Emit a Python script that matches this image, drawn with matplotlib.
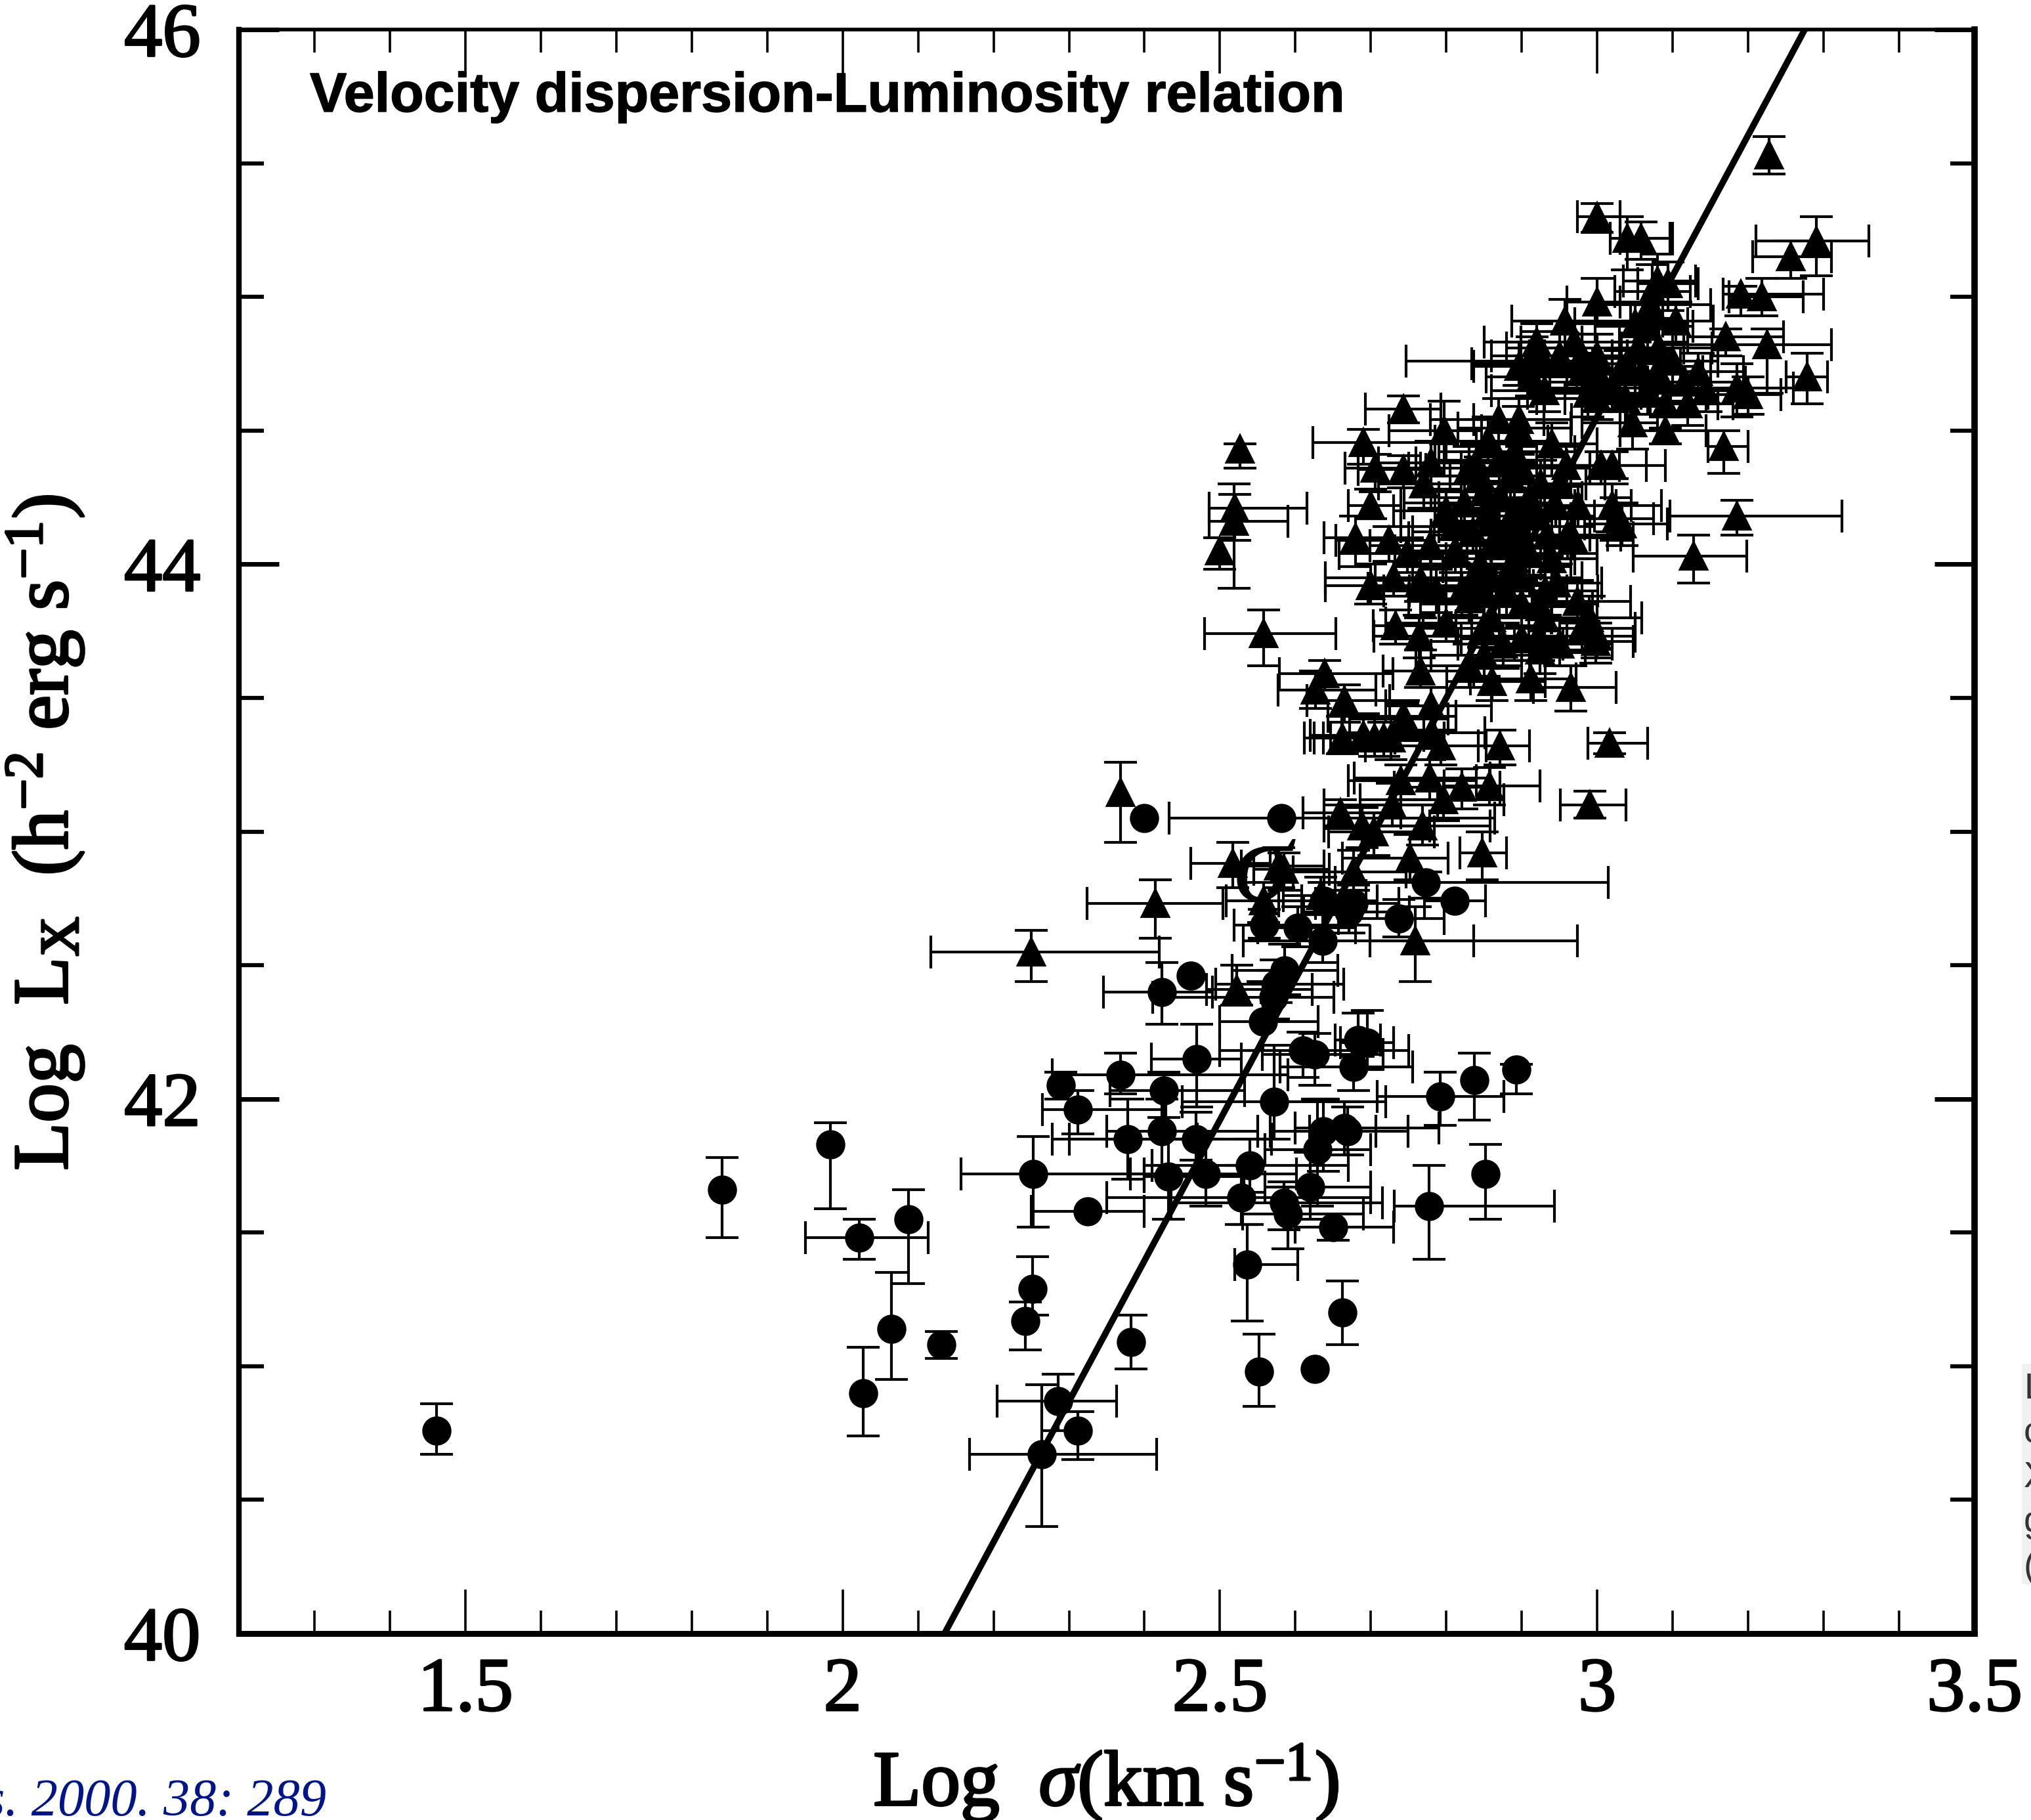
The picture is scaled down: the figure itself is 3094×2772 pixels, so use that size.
import numpy as np
import matplotlib
matplotlib.use("Agg")
import matplotlib.pyplot as plt
import matplotlib.patheffects as pe
from matplotlib.patches import Rectangle

nan = float("nan")

# regression line
fit_x = [2.135, 3.275]
fit_y = [40.0, 46.0]

# low luminosity systems (circles)
circle_x = [1.462, 1.84, 1.984, 2.022, 2.087, 2.065, 2.131, 2.027, 2.252, 2.242,
            2.382, 2.286, 2.312, 2.264, 2.253, 2.325, 2.536, 2.552, 2.626, 2.662,
            2.777, 2.852, 2.65, 2.59, 2.585, 2.62, 2.528, 2.54, 2.481, 2.432,
            2.468, 2.378, 2.423, 2.572, 2.629, 2.637, 2.665, 2.669, 2.289, 2.368,
            2.312, 2.426, 2.469, 2.792, 2.837, 2.893, 2.677, 2.683, 2.695, 2.61,
            2.626, 2.40, 2.581, 2.559, 2.603, 2.636, 2.671, 2.677, 2.638, 2.737,
            2.773, 2.811, 2.423, 2.461, 2.557, 2.571, 2.586, 2.574]
circle_y = [40.76, 41.66, 41.83, 41.48, 41.55, 41.14, 41.08, 40.90, 41.29, 41.17,
            41.09, 40.87, 40.76, 40.67, 41.72, 41.58, 41.38, 40.98, 40.99, 41.20,
            41.60, 41.72, 41.52, 41.57, 41.61, 41.67, 41.63, 41.75, 41.72, 41.71,
            41.85, 41.85, 41.88, 41.99, 41.81, 41.88, 41.89, 41.88, 42.05, 42.09,
            41.96, 42.03, 42.15, 42.01, 42.07, 42.11, 42.12, 42.22, 42.21, 42.18,
            42.165, 43.05, 43.05, 42.65, 42.64, 42.59, 42.70, 42.73, 42.74, 42.675,
            42.81, 42.74, 42.40, 42.46, 42.29, 42.38, 42.48, 42.43]
circle_xm = [nan, nan, nan, .071, nan, nan, nan, nan, nan, nan,
             nan, .081, nan, .096, .096, .075, .016, nan, nan, nan,
             .046, nan, .05, .06, .15, .06, .178, .13, .10, .032,
             .19, .078, .073, .122, .069, .07, .065, .05, nan, .09,
             .047, .072, .06, .084, nan, nan, .097, .03, .035, .11,
             .07, nan, .148, .04, .053, .105, .06, .05, .06, .08,
             .12, .04, .077, nan, .057, .16, .07, .08]
circle_xp = [nan, nan, nan, .091, nan, nan, nan, nan, nan, nan,
             nan, .077, nan, .152, .147, .075, .067, nan, nan, nan,
             .166, nan, .08, .10, .13, .08, .172, .13, .12, .10,
             .10, .092, .127, .148, .071, .07, .125, .08, nan, .222,
             .116, .107, .059, .084, nan, nan, .078, .03, .035, .14,
             .09, nan, .283, .08, .077, .20, .08, .06, .07, .06,
             .242, .041, .067, nan, .073, .08, .07, .09]
circle_ym = [.09, .18, .24, .08, .24, .19, .05, .16, .10, .11,
             .10, .11, .11, .27, .20, nan, .21, .13, nan, .12,
             .20, .17, .05, .13, .10, .12, .10, .10, .12, .16,
             .08, .15, .13, .14, .21, .15, .10, .09, .05, .07,
             .09, .10, .18, .11, .15, .09, .09, .06, .10, .10,
             .115, nan, nan, .05, .07, .08, .08, .08, .09, .07,
             .06, nan, .12, nan, .11, .08, .09, .07]
circle_yp = [.10, .12, .08, .07, .11, .21, .05, .17, .12, .07,
             .10, .10, .07, .26, .14, nan, .15, .14, nan, .12,
             .15, .11, .05, .10, .08, .13, .12, .10, .13, .14,
             .10, .15, .12, .21, .19, .12, .10, .09, .05, .08,
             .07, .07, .13, .09, .10, .02, .10, .10, .12, .07,
             .08, nan, nan, .06, .08, .10, .08, .07, .07, .07,
             .04, nan, .11, nan, .15, .10, .10, .09]

# clusters (triangles)
tri_x = [3.228, 3.000, 3.040, 3.058, 3.080, 3.094, 3.073, 3.000, 2.957, 3.29,
         3.256, 3.19, 3.218, 3.17, 3.225, 3.278, 3.185, 3.20, 3.047, 3.09,
         3.168, 3.185, 3.005, 3.02, 3.02, 3.025, 2.98, 2.914, 2.92, 2.896,
         3.067, 3.104, 3.134, 3.055, 3.03, 3.082, 3.007, 2.988, 3.116, 3.144,
         3.037, 3.067, 2.969, 2.896, 2.92, 2.913, 2.917, 2.743, 2.69, 2.797,
         2.706, 2.743, 2.527, 2.519, 2.52, 2.50, 2.68, 2.724, 2.748, 2.779,
         2.70, 2.73, 2.766, 2.558, 2.639, 2.733, 2.764, 3.128, 3.033, 3.00,
         2.968, 2.922, 2.959, 2.924, 2.965, 2.861, 2.912, 2.998, 2.98, 2.849,
         2.766, 2.83, 2.821, 2.845, 2.931, 2.946, 2.974, 2.885, 2.824, 2.855,
         2.885, 2.91, 2.916, 2.87, 2.90, 2.934, 2.845, 2.961, 2.812, 2.845,
         2.787, 2.766, 2.83, 2.90, 2.924, 2.989, 2.80, 2.87, 2.89, 2.86,
         2.88, 2.86, 2.90, 2.89, 2.665, 2.627, 2.743, 2.78, 2.662, 2.69,
         2.705, 2.727, 2.781, 2.793, 2.871, 3.016, 2.717, 2.742, 2.857, 2.99,
         2.778, 2.74, 2.821, 2.796, 2.728, 2.66, 2.688, 2.704, 2.768, 2.752,
         2.848, 2.585, 2.677, 2.558, 2.634, 2.759, 2.368, 2.517, 2.578, 2.414,
         2.25, 2.522, 2.70, 2.869, 2.895, 2.855, 2.84, 2.94, 2.78, 2.77,
         2.83, 2.85, 2.87, 2.90, 2.925, 2.945, 2.88, 2.91, 2.94, 2.86,
         2.835, 2.95, 2.975, 2.89, 2.86, 2.90, 2.93, 2.875, 2.85, 2.80,
         2.95, 2.81, 2.98, 3.00, 3.02, 3.04, 3.06, 3.00, 3.08, 3.10,
         3.05, 3.07, 3.09, 3.12, 2.95, 2.93]
tri_y = [45.53, 45.30, 45.22, 45.22, 45.06, 45.05, 45.02, 44.98, 44.91, 45.21,
         45.15, 45.01, 45.00, 44.85, 44.82, 44.70, 44.66, 44.635, 44.53, 44.50,
         44.44, 44.18, 44.37, 44.37, 44.22, 44.17, 44.78, 44.75, 44.83, 44.54,
         44.89, 44.91, 44.72, 44.81, 44.72, 44.81, 44.68, 44.64, 44.68, 44.65,
         44.62, 44.64, 44.83, 44.74, 44.81, 44.70, 44.76, 44.58, 44.455, 44.50,
         44.36, 44.355, 44.43, 44.16, 44.21, 44.05, 44.10, 44.09, 44.04, 44.07,
         43.92, 43.95, 43.91, 43.74, 43.59, 43.77, 43.73, 44.03, 44.15, 43.73,
         44.10, 43.73, 44.37, 43.68, 43.54, 43.56, 43.57, 43.71, 43.76, 43.76,
         43.60, 43.62, 43.90, 43.92, 43.90, 43.93, 43.86, 43.99, 44.23, 44.20,
         44.33, 44.25, 44.18, 44.11, 44.11, 44.11, 44.33, 44.11, 44.05, 44.00,
         43.90, 43.94, 43.87, 43.85, 43.84, 43.80, 44.20, 44.25, 44.18, 44.07,
         43.90, 43.80, 43.72, 44.42, 43.49, 43.53, 43.43, 43.47, 43.35, 43.36,
         43.35, 43.35, 43.37, 43.32, 43.32, 43.33, 43.35, 43.42, 43.17, 43.10,
         43.20, 43.19, 43.165, 43.12, 43.10, 43.07, 43.02, 43.00, 43.02, 42.90,
         42.92, 42.86, 42.85, 42.74, 42.76, 42.59, 43.145, 42.88, 42.87, 42.73,
         42.55, 42.41, 44.22, 44.54, 44.51, 44.46, 44.38, 44.45, 44.38, 44.30,
         44.36, 44.27, 44.39, 44.36, 44.30, 44.22, 44.14, 44.04, 44.02, 44.16,
         44.12, 44.30, 44.22, 44.02, 43.95, 43.95, 43.80, 43.70, 43.66, 43.78,
         43.70, 44.14, 44.72, 44.78, 44.66, 44.75, 44.72, 44.62, 44.72, 44.76,
         44.90, 44.97, 44.60, 44.60, 44.78, 44.65]
tri_xm = [nan, .026, .023, .028, .045, .04, .05, .04, .07, .08,
          .05, .023, .043, .05, .125, .028, .135, .08, .067, .06,
          .021, .089, .075, .06, .05, .06, .07, .08, .07, .06,
          .07, .06, .07, .08, .07, .05, .07, .08, .06, .07,
          .08, .07, .07, .06, .04, .06, .17, .05, .067, .073,
          .04, .06, nan, .033, .034, nan, .042, .07, .09, .08,
          .06, .09, .07, .078, .06, .03, .06, .08, .05, .07,
          .06, .07, .06, .07, .05, .06, .08, .07, .06, .08,
          .05, .07, .07, .08, .07, .08, .06, .09, .08, .07,
          .08, .09, .07, .09, .08, .07, .07, .06, .08, .09,
          .07, .06, .08, .07, .09, .05, .07, .08, .07, .08,
          .08, .07, .08, .10, .05, .05, .10, .06, .05, .07,
          .08, .09, .12, .10, .029, .028, .07, .07, .06, .039,
          .10, .07, .09, .11, .09, .05, .05, .06, .08, .09,
          .03, .04, .08, .05, .05, .06, nan, .056, .05, .09,
          .133, .04, .03, .09, .08, .07, .08, .10, .07, .06,
          .08, .07, .09, .08, .07, .08, .09, .07, .08, .06,
          .08, .07, .06, .09, .08, .07, .08, .06, .07, .08,
          .06, .07, .08, .07, .09, .08, .07, .08, .06, .07,
          .08, .07, .06, .08, .09, .07]
tri_xp = [nan, .03, .06, .038, .05, .04, .05, .03, .13, .07,
          .054, .11, .055, .077, .085, .027, .075, .043, .033, .054,
          .032, .139, .06, .07, .065, .05, .06, .08, .06, .07,
          .06, .05, .06, .06, .07, .07, .06, .07, .08, .05,
          .06, .08, .06, .08, .06, .06, .08, .05, .11, .05,
          .06, .03, nan, .071, .095, nan, .07, .06, .08, .08,
          .08, .09, .07, .096, .09, .08, .07, .07, .06, .05,
          .08, .08, .07, .06, .06, .07, .06, .05, .07, .06,
          .07, .07, .08, .07, .07, .06, .07, .08, .08, .09,
          .08, .07, .08, .08, .09, .08, .08, .07, .07, .08,
          .08, .08, .07, .08, .07, .07, .08, .08, .08, .07,
          .08, .08, .06, .08, .06, .08, .07, .08, .07, .08,
          .08, .07, .07, .06, .039, .051, .08, .06, .067, .048,
          .08, .10, .05, .08, .06, .08, .09, .08, .09, .05,
          .032, .06, .07, .05, .06, .215, nan, .05, .06, .09,
          .17, .10, .04, .06, .07, .08, .08, .06, .06, .07,
          .07, .08, .07, .09, .06, .08, .07, .09, .06, .08,
          .07, .06, .07, .08, .08, .08, .07, .08, .06, .07,
          .07, .08, .07, .08, .06, .07, .08, .07, .07, .06,
          .07, .08, .07, .06, .07, .09]
tri_ym = [.07, .06, .12, .08, .14, .10, .10, .08, .10, .13,
          .08, .08, .07, .07, .18, .10, .11, .075, .10, .05,
          .10, .07, .07, .05, .10, .08, .10, .10, .08, .09,
          .10, .09, .08, .09, .09, .10, .08, .09, .07, .08,
          .09, .08, .10, .07, .18, .07, .08, .05, .08, .17,
          .09, .07, .07, .25, .12, .07, .11, .08, .07, .08,
          .07, .07, .11, .12, .06, .07, .08, .10, .08, .08,
          .08, .09, .08, .09, .09, .07, .08, .08, .09, .07,
          .06, .08, .09, .08, .09, .08, .08, .09, .08, .09,
          .09, .08, .09, .08, .09, .08, .08, .09, .08, .07,
          .08, .08, .09, .08, .08, .09, .08, .10, .08, .10,
          .09, .09, .08, .07, .08, .07, .09, .09, .06, .06,
          .07, .08, .06, .07, .07, .04, .07, .07, .07, .05,
          .08, .07, .08, .08, .08, .06, .08, .09, .07, .08,
          .10, .08, .07, .08, .07, .15, .185, .09, .08, .13,
          .11, .06, .05, .09, .10, .08, .07, .08, .08, .09,
          .09, .08, .08, .09, .07, .08, .09, .08, .09, .07,
          .08, .09, .08, .08, .09, .07, .08, .09, .08, .07,
          .08, .09, .08, .09, .08, .07, .09, .08, .08, .09,
          .07, .08, .09, .08, .07, .08]
tri_yp = [.07, .05, .08, .06, .10, .08, .10, .09, .08, .09,
          .06, .03, .07, .03, .06, .09, .09, .065, .09, .05,
          .06, .06, .05, .05, .08, .08, .08, .10, .07, .08,
          .08, .07, .07, .10, .08, .07, .09, .08, .06, .07,
          .08, .07, .08, .09, .06, .08, .07, .05, .05, .11,
          .05, .05, .02, .14, .05, .05, .08, .05, .06, .07,
          .08, .06, .09, .09, .05, .06, .08, .08, .08, .07,
          .07, .08, .07, .08, .08, .08, .07, .07, .09, .08,
          .08, .08, .07, .08, .09, .07, .08, .09, .07, .08,
          .09, .08, .07, .09, .08, .08, .07, .08, .08, .08,
          .08, .09, .08, .09, .08, .08, .08, .09, .09, .08,
          .08, .08, .09, .08, .06, .07, .06, .07, .08, .08,
          .07, .07, .10, .06, .06, .04, .06, .06, .07, .05,
          .07, .06, .07, .07, .08, .05, .07, .07, .08, .09,
          .08, .06, .08, .07, .07, .13, .115, .08, .07, .09,
          .08, .09, .06, .08, .08, .09, .07, .08, .08, .06,
          .08, .09, .07, .08, .09, .08, .07, .09, .08, .08,
          .09, .07, .08, .09, .07, .08, .09, .08, .07, .08,
          .09, .08, .07, .08, .09, .08, .07, .09, .08, .07,
          .08, .09, .07, .08, .09, .07]

x_major = [1.5, 2, 2.5, 3, 3.5]
x_labels = ["1.5", "2", "2.5", "3", "3.5"]
y_major = [40, 42, 44, 46]
y_labels = ["40", "42", "44", "46"]

W, H = 3094, 2772
plt.rcParams["font.family"] = ["Liberation Serif", "DejaVu Serif"]
plt.rcParams["mathtext.fontset"] = "custom"
plt.rcParams["mathtext.rm"] = "Liberation Serif"
plt.rcParams["mathtext.it"] = "Liberation Serif:italic"

fig = plt.figure(figsize=(W / 100, H / 100), dpi=100, facecolor="white")
ax = fig.add_axes([364 / W, 1 - 2488 / H, (3008 - 364) / W, (2488 - 45) / H])

ax.plot(fit_x, fit_y, color="black", linewidth=7, solid_capstyle="butt", zorder=3)

ax.errorbar(circle_x, circle_y,
            xerr=np.array([circle_xm, circle_xp]), yerr=np.array([circle_ym, circle_yp]),
            fmt="o", color="black", markersize=29, markeredgewidth=3,
            elinewidth=3, capsize=18, zorder=4)
ax.errorbar(tri_x, tri_y,
            xerr=np.array([tri_xm, tri_xp]), yerr=np.array([tri_ym, tri_yp]),
            fmt="^", color="black", markersize=29, markeredgewidth=3,
            elinewidth=3, capsize=18, zorder=4)

ax.set_xlim(1.2, 3.5)
ax.set_ylim(40, 46)
ax.set_xticks(x_major, x_labels)
ax.set_yticks(y_major, y_labels)
ax.set_xticks(np.arange(1.3, 3.45, 0.1), minor=True)
ax.set_yticks(np.arange(40.5, 46, 0.5), minor=True)
ax.tick_params(axis="x", which="major", direction="in", top=True, length=48, width=2.6,
               labelsize=84, pad=26)
ax.tick_params(axis="x", which="minor", direction="in", top=True, length=25, width=2.6)
ax.tick_params(axis="y", which="major", direction="in", right=True, length=44, width=5,
               labelsize=84, pad=42)
ax.tick_params(axis="y", which="minor", direction="in", right=True, length=27, width=4.5)

heavy = [pe.withStroke(linewidth=2, foreground="black")]
for label in ax.get_xticklabels() + ax.get_yticklabels():
    label.set_path_effects(heavy)

ax.spines["left"].set_linewidth(6)
ax.spines["right"].set_linewidth(7)
ax.spines["top"].set_linewidth(4)
ax.spines["bottom"].set_linewidth(6.5)

ax.text(2.556, 42.85, "σ", fontsize=130, style="italic", ha="center", va="center",
        color="black", zorder=6)

fig.text(472 / W, 1 - 170 / H, "Velocity dispersion-Luminosity relation",
         family="Liberation Sans", weight="bold", fontsize=60.8, va="baseline",
         path_effects=[pe.withStroke(linewidth=1, foreground="black")])
fig.text(1685 / W, 1 - 2750 / H, r"Log  $\sigma$(km s$^{-1}$)", fontsize=86,
         ha="center", va="baseline", path_effects=[pe.withStroke(linewidth=2.5, foreground="black")])
fig.text(69 / W, 1 - 1268 / H, r"Log  L$_{\mathrm{X}}$  (h$^{-2}$ erg s$^{-1}$)", fontsize=86,
         rotation=90, ha="center", va="center",
         path_effects=[pe.withStroke(linewidth=2.5, foreground="black")])
fig.text(497 / W, 1 - 2765 / H, "s. 2000. 38: 289", fontsize=58, style="italic",
         color="#00148c", ha="right", va="baseline")

# clipped caption box at the right edge
fig.add_artist(Rectangle((3080 / W, 1 - 2413 / H), 14 / W, 336 / H, transform=fig.transFigure,
                         facecolor="#f0f0f0", edgecolor="none"))
side_letters = ["L", "c", "X", "g", "("]
side_rows = [2130, 2198, 2265, 2333, 2402]
for letter, row in zip(side_letters, side_rows):
    fig.text(3083 / W, 1 - row / H, letter, family="Liberation Sans", fontsize=40,
             color="#333333", va="baseline")

fig.savefig("out.png", dpi=100)
